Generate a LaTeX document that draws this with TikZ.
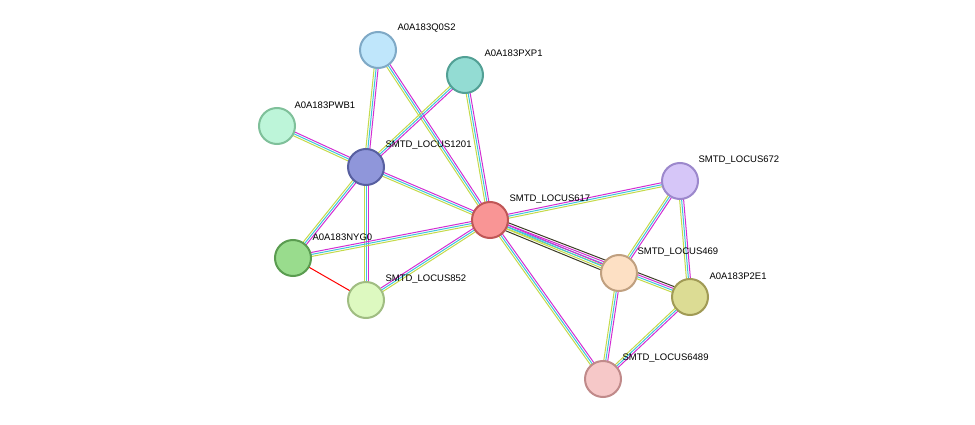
\documentclass[tikz,border=0pt]{standalone}
\usepackage{fontspec}
\setmainfont{Liberation Sans}
\usetikzlibrary{calc}
\definecolor{txm}{HTML}{C4DA4A}
\definecolor{dbs}{HTML}{3FC4DC}
\definecolor{exm}{HTML}{D22ED2}
\definecolor{coex}{HTML}{3C3C28}
\definecolor{fQ0S2}{HTML}{BFE6FB}\definecolor{dQ0S2}{HTML}{7FA9C6}
\definecolor{fPXP1}{HTML}{93DCD3}\definecolor{dPXP1}{HTML}{52A095}
\definecolor{fPWB1}{HTML}{BDF5D9}\definecolor{dPWB1}{HTML}{7FC09A}
\definecolor{f1201}{HTML}{8F96DA}\definecolor{d1201}{HTML}{575FA0}
\definecolor{f617}{HTML}{F99595}\definecolor{d617}{HTML}{C05656}
\definecolor{f672}{HTML}{D6C6F8}\definecolor{d672}{HTML}{9C88CC}
\definecolor{fNYG0}{HTML}{99DC8D}\definecolor{dNYG0}{HTML}{5A9C50}
\definecolor{f852}{HTML}{DDF9C0}\definecolor{d852}{HTML}{A0BD82}
\definecolor{f469}{HTML}{FDE0C4}\definecolor{d469}{HTML}{C0A080}
\definecolor{fP2E1}{HTML}{DCDC94}\definecolor{dP2E1}{HTML}{A09A55}
\definecolor{f6489}{HTML}{F6C8C8}\definecolor{d6489}{HTML}{C08A8A}
% one colored strand, shifted sideways by #4 pt
\newcommand{\strand}[4]{\draw[#3] ($(#1)!#4pt!90:(#2)$) -- ($(#2)!#4pt!-90:(#1)$);}
\newcommand{\link}[2]{\strand{#1}{#2}{txm}{-2}\strand{#1}{#2}{dbs}{0}\strand{#1}{#2}{exm}{2}}
\begin{document}
\begin{tikzpicture}[x=1pt, y=-1pt, line width=1pt,
	prot/.style={circle, draw=d#1, fill=f#1, line width=2pt, minimum size=36pt, inner sep=0pt},
	tag/.style={anchor=west, font=\fontsize{9.5}{11}\selectfont, inner sep=0pt},
]
\useasboundingbox (0,0) rectangle (975,425);
\coordinate (Q0S2) at (378,50);
\coordinate (PXP1) at (465,75);
\coordinate (PWB1) at (277,126);
\coordinate (L1201) at (366,167);
\coordinate (L617) at (490,220);
\coordinate (L672) at (680,181);
\coordinate (NYG0) at (293,258);
\coordinate (L852) at (366,300);
\coordinate (L469) at (619,273);
\coordinate (P2E1) at (690,297);
\coordinate (L6489) at (603,379);
%
\link{Q0S2}{L1201}
\link{Q0S2}{L617}
\link{PXP1}{L1201}
\link{PXP1}{L617}
\link{PWB1}{L1201}
\link{L1201}{L617}
\link{L1201}{NYG0}
\link{L1201}{L852}
\link{NYG0}{L617}
\link{L852}{L617}
\link{L617}{L672}
\link{L617}{L6489}
\link{L672}{L469}
\link{L672}{P2E1}
\link{L469}{L6489}
\link{P2E1}{L6489}
\link{L617}{P2E1}
\strand{L617}{P2E1}{coex}{4}
\link{L617}{L469}
\strand{L617}{L469}{coex}{-4}
\draw[red] (NYG0) -- (L852);
%
\node[prot=Q0S2] (nQ0S2) at (Q0S2) {};
\node[prot=PXP1] (nPXP1) at (PXP1) {};
\node[prot=PWB1] (nPWB1) at (PWB1) {};
\node[prot=1201] (n1201) at (L1201) {};
\node[prot=617] (n617) at (L617) {};
\node[prot=672] (n672) at (L672) {};
\node[prot=NYG0] (nNYG0) at (NYG0) {};
\node[prot=852] (n852) at (L852) {};
\node[prot=469] (n469) at (L469) {};
\node[prot=P2E1] (nP2E1) at (P2E1) {};
\node[prot=6489] (n6489) at (L6489) {};
%
\node[tag] at ($(Q0S2)+(19,-22)$) {A0A183Q0S2};
\node[tag] at ($(PXP1)+(19,-22)$) {A0A183PXP1};
\node[tag] at ($(PWB1)+(17,-21)$) {A0A183PWB1};
\node[tag] at ($(L1201)+(19,-22)$) {SMTD\_LOCUS1201};
\node[tag] at ($(L617)+(19,-21)$) {SMTD\_LOCUS617};
\node[tag] at ($(L672)+(18,-21)$) {SMTD\_LOCUS672};
\node[tag] at ($(NYG0)+(19,-21)$) {A0A183NYG0};
\node[tag] at ($(L852)+(19,-21)$) {SMTD\_LOCUS852};
\node[tag] at ($(L469)+(18,-21)$) {SMTD\_LOCUS469};
\node[tag] at ($(P2E1)+(19,-21)$) {A0A183P2E1};
\node[tag] at ($(L6489)+(19,-21)$) {SMTD\_LOCUS6489};
\end{tikzpicture}
\end{document}
